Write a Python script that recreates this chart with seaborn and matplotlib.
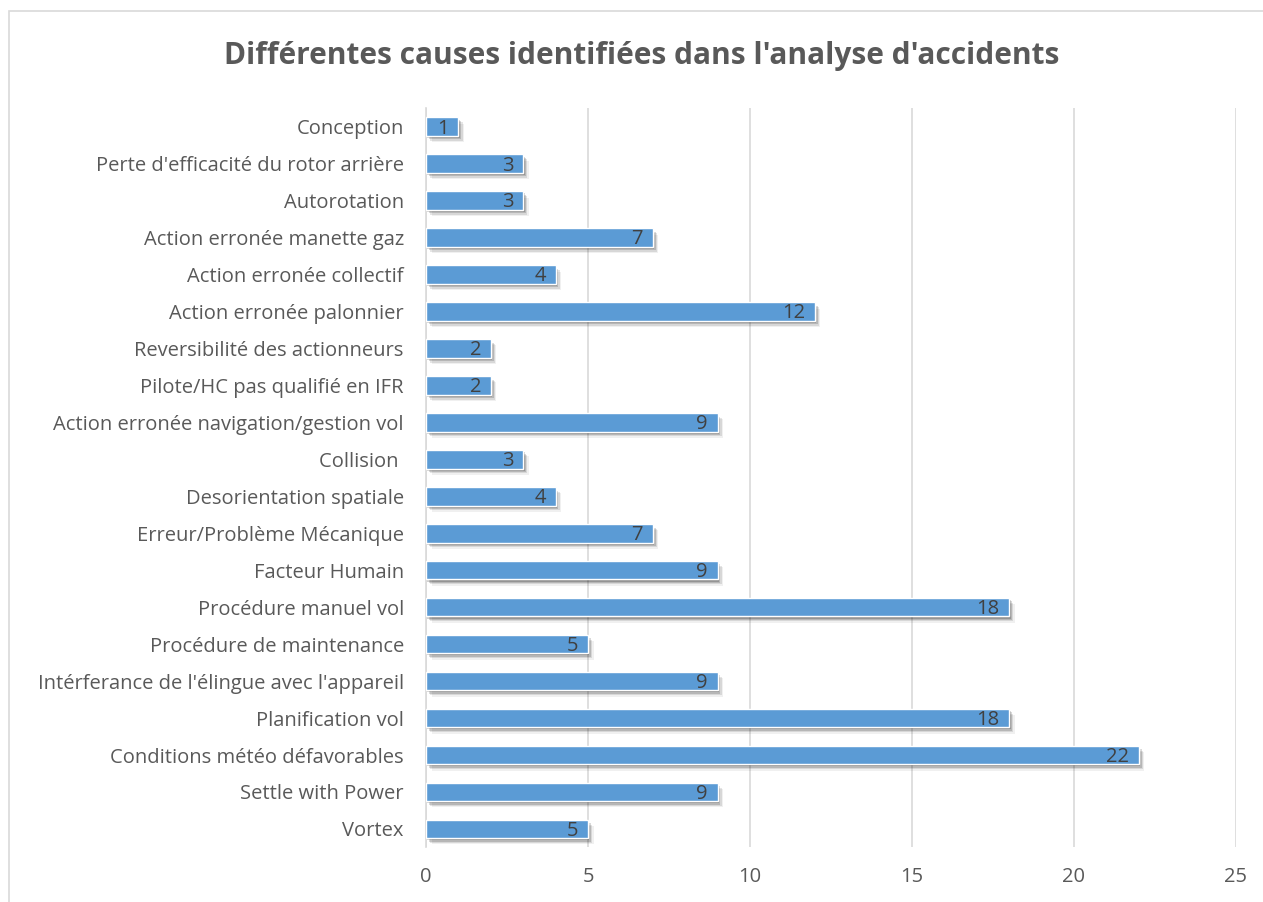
import pandas as pd
import matplotlib.pyplot as plt
import matplotlib.patheffects as pe
from matplotlib.patches import Rectangle
import seaborn as sns

# ─── Data ─────────────────────────────────────────────────────────────────────
causes = [
    "Conception",
    "Perte d'efficacité du rotor arrière",
    "Autorotation",
    "Action erronée manette gaz",
    "Action erronée collectif",
    "Action erronée palonnier",
    "Reversibilité des actionneurs",
    "Pilote/HC pas qualifié en IFR",
    "Action erronée navigation/gestion vol",
    "Collision ",
    "Desorientation spatiale",
    "Erreur/Problème Mécanique",
    "Facteur Humain",
    "Procédure manuel vol",
    "Procédure de maintenance",
    "Intérferance de l'élingue avec l'appareil",
    "Planification vol",
    "Conditions météo défavorables",
    "Settle with Power",
    "Vortex",
]
counts = [1, 3, 3, 7, 4, 12, 2, 2, 9, 3, 4, 7, 9, 18, 5, 9, 18, 22, 9, 5]
x_ticks = [0, 5, 10, 15, 20, 25]

df = pd.DataFrame({'cause': causes, 'count': counts})

TEXT = '#595959'
BAR = '#5b9bd5'

sns.set_theme(style='white')
plt.rcParams['font.family'] = ['Open Sans', 'DejaVu Sans']

fig = plt.figure(figsize=(12.63, 9.02), dpi=100)
ax = fig.add_axes([0.3373, 0.0605, 0.6413, 0.8195])

sns.barplot(data=df, x='count', y='cause', orient='h', color=BAR,
            saturation=1, width=0.5, ax=ax, zorder=3)

# soft drop shadow, built from a few stacked faint shadows
shadow = [pe.SimplePatchShadow(offset=(dx, -dy), shadow_rgbFace='#000000', alpha=a)
          for dx, dy, a in [(1, 1.5, 0.18), (2, 2.5, 0.15), (3, 3.5, 0.10), (4, 4.5, 0.06)]]
for p in ax.patches:
    p.set_path_effects(shadow + [pe.Normal()])

for i, v in enumerate(counts):
    ax.text(v - 0.3, i + 0.05, str(v), ha='right', va='center', fontsize=14.5,
            color='#404040', zorder=5)

ax.set_xlim(0, 25)
ax.set_ylim(len(causes) - 0.5, -0.5)
ax.set_xticks(x_ticks)
ax.xaxis.grid(True, color='#d9d9d9', linewidth=1.2, zorder=0)
ax.set_axisbelow(True)
ax.set_xlabel('')
ax.set_ylabel('')
ax.tick_params(axis='x', labelsize=14.5, labelcolor=TEXT, length=0, pad=14)
ax.tick_params(axis='y', labelsize=14.5, labelcolor=TEXT, length=0, pad=16)
for s in ['top', 'right', 'bottom']:
    ax.spines[s].set_visible(False)
ax.spines['left'].set_color('#d9d9d9')
ax.spines['left'].set_linewidth(1.2)

fig.text(0.508, 0.938, "Différentes causes identifiées dans l'analyse d'accidents",
         ha='center', va='center', fontsize=21.5, fontweight='bold', color=TEXT)

# chart frame
fig.patches.append(Rectangle((0.007, -0.01), 1.0, 0.998, transform=fig.transFigure,
                             fill=False, edgecolor='#d9d9d9', linewidth=1.2))

fig.savefig('out.png', dpi=100)
